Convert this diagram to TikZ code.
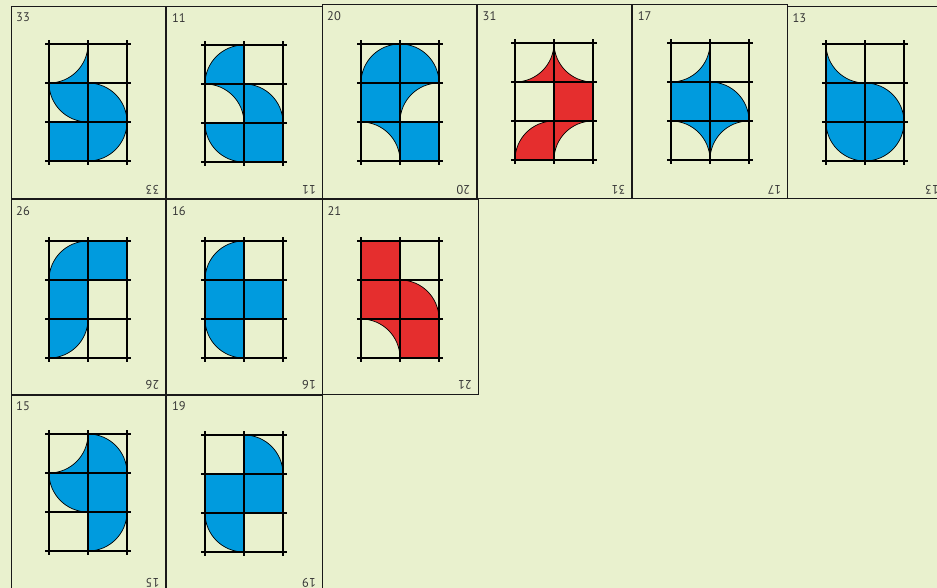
\documentclass[tikz,border=0pt]{standalone}
\usepackage{fontspec}
\setmainfont{PT Sans}
\definecolor{bgcol}{RGB}{233,241,206}
\definecolor{tileblue}{RGB}{0,155,222}
\definecolor{tilered}{RGB}{229,46,46}
\definecolor{labelgray}{RGB}{55,55,55}
\definecolor{bordercol}{RGB}{25,25,25}
\tikzset{
  tileborder/.style={draw=bordercol, line width=1pt},
  gridline/.style={draw=black, line width=1.6pt},
  piece/.style={draw=black, line width=0.7pt, line join=round},
  lbl/.style={inner sep=0pt, text=labelgray, font=\fontsize{12.5}{14}\selectfont}
}
\def\pcol{tileblue}
\newcommand\sF[2]{\filldraw[piece,fill=\pcol,shift={(#1,#2)}] (0,0) rectangle (1,1);}
\newcommand\sQTL[2]{\filldraw[piece,fill=\pcol,shift={(#1,#2)}] (0,0) -- (1,0) .. controls (1,0.5523) and (0.5523,1) .. (0,1) -- cycle;}
\newcommand\sQTR[2]{\filldraw[piece,fill=\pcol,shift={(#1,#2)}] (1,0) -- (1,1) .. controls (0.4477,1) and (0,0.5523) .. (0,0) -- cycle;}
\newcommand\sQBL[2]{\filldraw[piece,fill=\pcol,shift={(#1,#2)}] (0,1) -- (0,0) .. controls (0.5523,0) and (1,0.4477) .. (1,1) -- cycle;}
\newcommand\sQBR[2]{\filldraw[piece,fill=\pcol,shift={(#1,#2)}] (1,1) -- (0,1) .. controls (0,0.4477) and (0.4477,0) .. (1,0) -- cycle;}
\newcommand\sCTL[2]{\filldraw[piece,fill=\pcol,shift={(#1,#2)}] (1,1) -- (1,0) .. controls (1,0.5523) and (0.5523,1) .. (0,1) -- cycle;}
\newcommand\sCTR[2]{\filldraw[piece,fill=\pcol,shift={(#1,#2)}] (0,1) -- (1,1) .. controls (0.4477,1) and (0,0.5523) .. (0,0) -- cycle;}
\newcommand\sCBL[2]{\filldraw[piece,fill=\pcol,shift={(#1,#2)}] (1,0) -- (0,0) .. controls (0.5523,0) and (1,0.4477) .. (1,1) -- cycle;}
\newcommand\sCBR[2]{\filldraw[piece,fill=\pcol,shift={(#1,#2)}] (0,0) -- (0,1) .. controls (0,0.4477) and (0.4477,0) .. (1,0) -- cycle;}
% #1 number, #2 L, #3 T, #4 R, #5 B, #6 gx, #7 gy, #8 colour, #9 pieces
\newcommand\tile[9]{%
  \draw[tileborder] (#2,#3) rectangle (#4,#5);
  \node[lbl, anchor=north west] (t#1a) at (#2+5,#3+6.5) {#1};
  \node[lbl, anchor=north west, rotate=180] (t#1b) at (#4-6,#5-4.5) {#1};
  \begin{scope}[shift={(#6pt,-#7pt)}, x=39pt, y=-39pt]
    \def\pcol{#8}
    #9
    \foreach \i in {0,1,2} \draw[gridline] (\i,-0.1) -- (\i,3.1);
    \foreach \j in {0,1,2,3} \draw[gridline] (-0.1,\j) -- (2.1,\j);
  \end{scope}
}
\begin{document}
\begin{tikzpicture}[x=1pt,y=-1pt]
\useasboundingbox (0,0) rectangle (937,588);
\fill[bgcol] (0,0) rectangle (937,588);
% row 1
\tile{33}{11}{6.5}{165.5}{199}{49}{44}{tileblue}{\sCTL{0}{0}\sQTR{0}{1}\sQBL{1}{1}\sF{0}{2}\sQTL{1}{2}}
\tile{11}{166.8}{6.5}{322}{199}{205}{45}{tileblue}{\sQBR{0}{0}\sCBL{0}{1}\sQBL{1}{1}\sQTR{0}{2}\sF{1}{2}}
\tile{20}{322}{5}{476.3}{199}{361}{44}{tileblue}{\sQBR{0}{0}\sQBL{1}{0}\sF{0}{1}\sCBR{1}{1}\sCBL{0}{2}\sF{1}{2}}
\tile{31}{477.5}{5}{631.5}{199}{515}{43}{tilered}{\sCTL{0}{0}\sCTR{1}{0}\sF{1}{1}\sQBR{0}{2}\sCBR{1}{2}}
\tile{17}{632.7}{5}{787.3}{199}{671}{43}{tileblue}{\sCTL{0}{0}\sF{0}{1}\sQBL{1}{1}\sCBL{0}{2}\sCBR{1}{2}}
\tile{13}{787.3}{6.5}{945}{199}{826}{44}{tileblue}{\sCTR{0}{0}\sF{0}{1}\sQBL{1}{1}\sQTR{0}{2}\sQTL{1}{2}}
% row 2
\tile{26}{11}{200}{165.5}{394}{49}{241}{tileblue}{\sQBR{0}{0}\sF{1}{0}\sF{0}{1}\sQTL{0}{2}}
\tile{16}{166.8}{200}{322}{394}{205}{241}{tileblue}{\sQBR{0}{0}\sF{0}{1}\sF{1}{1}\sQTR{0}{2}}
\tile{21}{322.3}{200}{478}{394}{361}{241}{tilered}{\sF{0}{0}\sF{0}{1}\sQBL{1}{1}\sCBL{0}{2}\sF{1}{2}}
% row 3
\tile{15}{11}{395}{165.5}{592}{49}{434}{tileblue}{\sCTL{0}{0}\sQBL{1}{0}\sQTR{0}{1}\sF{1}{1}\sQTL{1}{2}}
\tile{19}{166.8}{395}{322}{592}{205}{435}{tileblue}{\sQBL{1}{0}\sF{0}{1}\sF{1}{1}\sQTR{0}{2}}
\end{tikzpicture}
\end{document}
